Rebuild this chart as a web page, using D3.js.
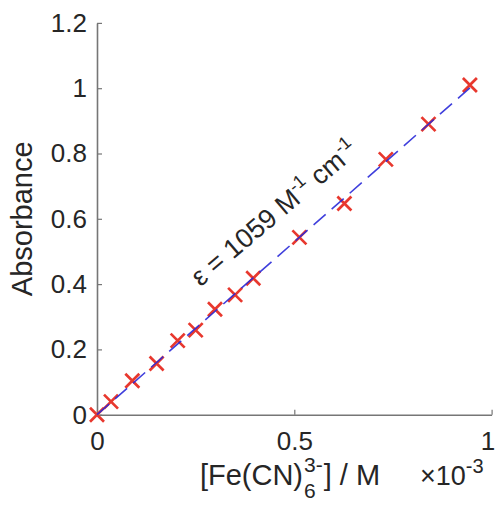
<!DOCTYPE html>
<html>
<head>
<meta charset="utf-8">
<script src="https://cdn.jsdelivr.net/npm/d3@7"></script>
<style>
  html, body { margin: 0; padding: 0; background: #fff; }
  svg { display: block; }
  text { font-family: "Liberation Sans", Arial, Helvetica, sans-serif; fill: #262626; }
</style>
</head>
<body>
<svg id="chart" width="496" height="506"></svg>
<script>
// ---- data (concentration in M, absorbance) ----
const concentration = [0, 0.0355e-3, 0.0895e-3, 0.151e-3, 0.2045e-3, 0.250e-3, 0.299e-3, 0.350e-3,
                       0.396e-3, 0.513e-3, 0.627e-3, 0.732e-3, 0.840e-3, 0.945e-3];
const absorbance    = [0, 0.040, 0.104, 0.157, 0.227, 0.259, 0.323, 0.367,
                       0.418, 0.543, 0.647, 0.782, 0.890, 1.010];
const fitSlope = 1059;      // M^-1 cm^-1 (path 1 cm)
const fitIntercept = 0;
const xTickValues = [0, 0.5e-3, 1e-3];
const xTickLabels = ["0", "0.5", "1"];
const yTickValues = [0, 0.2, 0.4, 0.6, 0.8, 1.0, 1.2];
const yTickLabels = ["0", "0.2", "0.4", "0.6", "0.8", "1", "1.2"];

const svg = d3.select("#chart");
const mLeft = 97, mRight = 491.6, mTop = 22.9, mBottom = 414.7;

const x = d3.scaleLinear().domain([0, 1e-3]).range([mLeft, mRight]);
const y = d3.scaleLinear().domain([0, 1.2]).range([mBottom, mTop]);

const axisColor = "#767676";

// y axis
const yAxis = d3.axisLeft(y)
  .tickValues(yTickValues)
  .tickFormat((d, i) => yTickLabels[i])
  .tickSizeInner(-5).tickSizeOuter(0).tickPadding(10);
const gy = svg.append("g").attr("transform", `translate(${mLeft},0)`).call(yAxis);
gy.select(".domain").attr("stroke", axisColor).attr("stroke-width", 1.6);
gy.selectAll(".tick line").attr("stroke", axisColor).attr("stroke-width", 1.2);
gy.selectAll(".tick text").attr("font-size", 26).attr("fill", "#262626")
  .attr("font-family", "Liberation Sans, Arial, sans-serif");

// x axis
const xAxis = d3.axisBottom(x)
  .tickValues(xTickValues)
  .tickFormat((d, i) => xTickLabels[i])
  .tickSizeInner(-5).tickSizeOuter(0).tickPadding(17);
const gx = svg.append("g").attr("transform", `translate(0,${mBottom})`).call(xAxis);
gx.select(".domain").attr("stroke", axisColor).attr("stroke-width", 1.6);
gx.selectAll(".tick line").attr("stroke", axisColor).attr("stroke-width", 1.2);
gx.selectAll(".tick text").attr("font-size", 26).attr("fill", "#262626")
  .attr("font-family", "Liberation Sans, Arial, sans-serif");
// keep the last tick label inside the picture
gx.selectAll(".tick text").filter((d, i) => i === xTickValues.length - 1).attr("dx", -4);

// markers (red x)
const ms = 7;
const markers = svg.append("g");
concentration.forEach((c, i) => {
  const cx = x(c), cy = y(absorbance[i]);
  markers.append("path")
    .attr("d", `M${cx - ms},${cy - ms}L${cx + ms},${cy + ms}M${cx - ms},${cy + ms}L${cx + ms},${cy - ms}`)
    .attr("stroke", "#e8382e").attr("stroke-width", 2.7).attr("fill", "none");
});

// fit line (dashed blue)
const xs = [0, d3.max(concentration)];
svg.append("path")
  .datum(xs)
  .attr("d", d3.line().x(d => x(d)).y(d => y(fitSlope * d + fitIntercept)))
  .attr("stroke", "#2a2ad8").attr("stroke-width", 1.6).attr("fill", "none")
  .attr("stroke-dasharray", "16,8").attr("opacity", 0.9);

// annotation
const ang = -Math.atan2(y(0) - y(1.0), x(1.0 / fitSlope) - x(0)) * 180 / Math.PI + 1;
const ann = svg.append("text")
  .attr("transform", `translate(${x(0.262e-3)},${y(0.39)}) rotate(${ang})`)
  .attr("font-size", 27).attr("fill", "#111");
ann.append("tspan").text("ε = 1059 M");
ann.append("tspan").attr("font-size", 18).attr("dy", -11).text("-1");
ann.append("tspan").attr("dy", 11).text(" cm");
ann.append("tspan").attr("font-size", 18).attr("dy", -11).text("-1");

// y label
svg.append("text")
  .attr("transform", `translate(32,${(mTop + mBottom) / 2}) rotate(-90)`)
  .attr("text-anchor", "middle")
  .attr("font-size", 29).text("Absorbance");

// x label with stacked sub/superscript
const xl = svg.append("g");
const baseY = 485;
const t1 = xl.append("text").attr("x", 0).attr("y", baseY).attr("font-size", 29).text("[Fe(CN)");
const w1 = t1.node().getComputedTextLength();
const sup = xl.append("text").attr("x", w1 + 1).attr("y", baseY - 13).attr("font-size", 21).text("3-");
const sub = xl.append("text").attr("x", w1 + 1).attr("y", baseY + 13).attr("font-size", 21).text("6");
const ws = Math.max(sup.node().getComputedTextLength(), sub.node().getComputedTextLength());
const t2 = xl.append("text").attr("x", w1 + ws + 2).attr("y", baseY).attr("font-size", 29).text("] / M");
const totalW = w1 + ws + 2 + t2.node().getComputedTextLength();
xl.attr("transform", `translate(${290 - totalW / 2},0)`);

// exponent label
const ex = svg.append("text").attr("x", 420).attr("y", baseY).attr("font-size", 27);
ex.append("tspan").attr("font-weight", 300).text("×");
ex.append("tspan").text("10");
ex.append("tspan").attr("font-size", 20).attr("dy", -12).text("-3");
</script>
</body>
</html>
